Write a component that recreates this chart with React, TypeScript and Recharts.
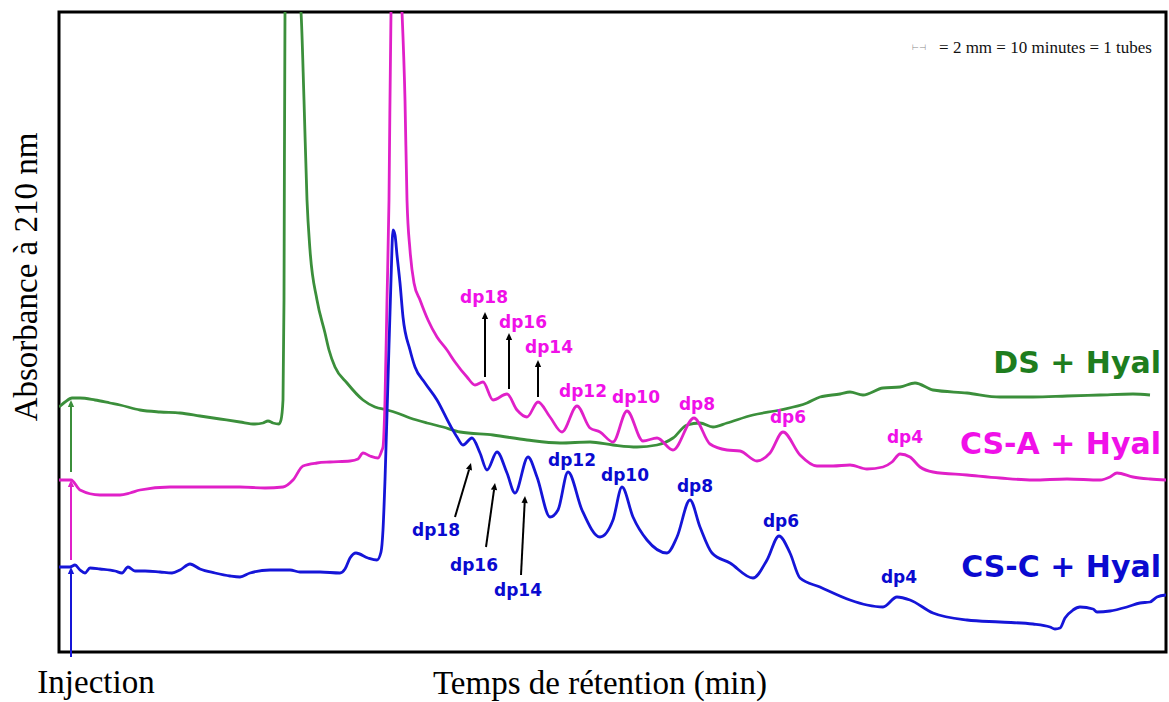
import {
  LineChart,
  Line,
  XAxis,
  YAxis,
  ReferenceArea,
  ReferenceLine,
  ReferenceDot,
} from 'recharts';

const W = 1169;
const H = 702;
const T_MAX = 110.7;
const A_MAX = 64;

// DS + Hyal trace (retention time, absorbance)
const dsTime = [
  0, 0.6, 1.3, 2.1, 3.6, 5.1, 6.1, 8.1, 10.1, 12.1, 14.1, 16.1, 18.1, 19.6, 20.4, 20.9, 21.4, 22.0, 22.2,
  22.4, 22.5, 22.6, 23.4, 24.2, 24.5, 24.8, 25.1, 25.8, 26.6, 27.0, 27.6, 28.8, 30.4, 31.6, 32.8, 33.8,
  35.1, 36.8, 38.4, 40.1, 43.4, 46.8, 50.1, 53.1, 55.4, 57.8, 59.8, 61.4, 62.8, 64.1, 65.4, 66.8, 69.4,
  72.1, 74.8, 76.1, 78.1, 79.1, 80.4, 82.4, 84.1, 85.6, 87.4, 90.8, 94.1, 97.4, 100.8, 104.1, 107.4, 109.1,
];
const dsAbs = [
  24.5, 25.0, 25.4, 25.4, 25.2, 24.9, 24.7, 24.2, 24.0, 23.9, 23.6, 23.3, 23.0, 22.8, 22.9, 23.1, 22.9, 22.8, 23.2,
  25.2, 35.2, 64.0, 70.2, 64.0, 55.2, 45.2, 40.2, 35.2, 31.9, 30.2, 28.5, 26.9, 25.2, 24.5, 24.2, 23.9,
  23.4, 22.9, 22.5, 22.0, 21.7, 21.2, 20.9, 21.0, 20.7, 20.5, 20.7, 21.4, 22.7, 22.9, 22.5, 22.9, 23.7,
  24.2, 24.9, 25.5, 25.8, 26.0, 25.7, 26.4, 26.5, 26.9, 26.2, 25.9, 25.5, 25.5, 25.6, 25.7, 25.8, 25.7,
];

// CS-A + Hyal trace
const csaTime = [
  0, 1.2, 2.1, 4.1, 6.1, 7.1, 8.1, 11.1, 14.1, 18.1, 20.6, 22.4, 23.4, 24.4, 25.8, 27.1, 29.1, 29.9, 30.4,
  31.1, 31.9, 32.3, 32.4, 32.6, 32.8, 33.0, 33.2, 33.7, 34.3, 34.6, 34.8, 35.1, 35.5, 36.1, 36.9, 37.8,
  38.8, 39.6, 40.8, 41.6, 42.4, 43.4, 44.8, 45.8, 46.8, 47.9, 49.1, 50.3, 51.8, 53.1, 54.1, 55.4, 56.8,
  58.4, 59.8, 61.4, 63.5, 65.1, 66.8, 68.1, 69.8, 71.1, 72.4, 74.1, 75.8, 77.4, 79.1, 80.8, 82.4, 83.3,
  84.1, 85.1, 86.1, 87.4, 90.8, 94.1, 97.4, 100.8, 104.1, 105.1, 105.8, 107.4, 109.1, 110.7,
];
const csaAbs = [
  17.2, 17.2, 16.2, 15.7, 15.7, 15.9, 16.2, 16.5, 16.5, 16.5, 16.4, 16.5, 17.2, 18.6, 18.9, 19.0, 19.1, 19.3, 19.9,
  19.6, 19.4, 20.2, 20.5, 25.2, 35.2, 45.2, 64.0, 71.2, 64.0, 55.2, 45.2, 40.2, 36.9, 35.2, 33.2, 31.5,
  30.2, 29.0, 27.5, 26.7, 27.0, 25.2, 25.8, 24.2, 23.5, 25.0, 23.5, 22.0, 24.6, 22.4, 22.0, 21.0, 24.1,
  21.1, 21.4, 20.2, 23.4, 20.8, 20.2, 20.1, 19.1, 19.9, 22.0, 19.7, 18.6, 18.6, 18.7, 18.3, 18.5, 19.0,
  19.8, 19.5, 18.5, 18.0, 17.7, 17.4, 17.2, 17.3, 17.2, 17.5, 17.9, 17.5, 17.3, 17.2,
];

// CS-C + Hyal trace
const cscTime = [
  0, 1.1, 1.6, 2.1, 2.6, 3.1, 4.1, 5.6, 6.3, 6.9, 7.6, 8.6, 10.1, 11.3, 12.1, 13.1, 14.1, 15.6, 17.1, 18.1,
  19.1, 21.1, 23.1, 24.1, 26.1, 28.1, 28.6, 29.1, 29.7, 30.9, 31.8, 32.2, 32.4, 32.6, 32.9, 33.2, 33.4,
  33.6, 33.8, 34.1, 34.4, 35.1, 35.6, 36.6, 37.8, 39.1, 39.8, 40.4, 41.3, 42.1, 42.8, 43.8, 44.8, 45.6,
  46.9, 47.8, 49.1, 49.9, 50.9, 52.3, 54.1, 55.4, 56.3, 57.4, 58.8, 60.8, 61.8, 63.1, 64.1, 65.3, 67.1,
  69.4, 70.8, 72.0, 73.1, 74.1, 76.1, 79.1, 80.8, 82.4, 83.8, 85.1, 87.4, 90.8, 94.1, 97.4, 99.1, 99.6,
  100.1, 100.6, 101.4, 102.1, 103.4, 103.8, 105.1, 106.8, 108.1, 109.1, 109.8, 110.7,
];
const cscAbs = [
  8.5, 8.5, 8.7, 8.2, 7.9, 8.4, 8.3, 8.1, 7.9, 8.5, 8.1, 8.1, 8.0, 7.9, 8.2, 8.8, 8.3, 7.9, 7.6, 7.5,
  7.9, 8.2, 8.2, 8.0, 8.0, 7.9, 8.3, 9.4, 9.9, 9.4, 9.2, 10.0, 12.2, 17.2, 27.2, 37.2, 42.2,
  41.7, 39.7, 36.9, 33.5, 30.2, 28.5, 26.9, 25.2, 22.7, 21.5, 20.7, 21.4, 19.9, 18.2, 20.0, 17.9, 15.9,
  19.5, 17.5, 13.5, 14.2, 18.0, 14.2, 11.5, 13.2, 16.5, 13.5, 11.2, 9.9, 11.5, 15.2, 12.5, 9.9, 8.9,
  7.4, 9.2, 11.6, 9.9, 7.4, 6.5, 5.2, 4.7, 4.5, 5.5, 5.2, 3.9, 3.2, 3.0, 2.8, 2.5, 2.3,
  2.4, 3.4, 4.2, 4.5, 4.3, 4.0, 4.1, 4.5, 4.9, 5.0, 5.5, 5.7,
];

const seriesNames = ['DS + Hyal', 'CS-A + Hyal', 'CS-C + Hyal'];
const seriesNameAbs = [29.0, 20.9, 8.6];

// peak labels (degree of polymerisation)
const csaPeaks = ['dp18', 'dp16', 'dp14', 'dp12', 'dp10', 'dp8', 'dp6', 'dp4'];
const csaPeakT = [42.5, 46.4, 49.0, 52.4, 57.7, 63.8, 72.9, 84.6];
const csaPeakA = [35.5, 33.0, 30.5, 26.1, 25.5, 24.8, 23.5, 21.5];
const cscPeaks = ['dp18', 'dp16', 'dp14', 'dp12', 'dp10', 'dp8', 'dp6', 'dp4'];
const cscPeakT = [37.7, 41.5, 45.9, 51.3, 56.6, 63.6, 72.2, 84.0];
const cscPeakA = [12.2, 8.7, 6.2, 19.2, 17.7, 16.6, 13.1, 7.5];

// arrows: [t1, a1, t2, a2]
const csaArrows = [
  [42.6, 27.5, 42.6, 34.0],
  [45.0, 26.3, 45.0, 31.9],
  [47.9, 25.5, 47.9, 29.2],
];
const cscArrows = [
  [39.6, 13.5, 41.2, 18.9],
  [42.7, 10.5, 43.6, 16.9],
  [46.2, 7.7, 46.6, 15.6],
];
const injectionT = 1.2;
const injectionFrom = [18.0, 9.2, -0.5];
const injectionTo = [25.2, 17.2, 8.5];

const lineColors = ['#3b8f3b', '#e020c8', '#1515d8'];
const textColors = ['#1e7d1e', '#f010e8', '#0a0ad0'];

const zip = (ts: number[], as: number[]) => ts.map((t, i) => ({ t, a: as[i] }));
const traces = [zip(dsTime, dsAbs), zip(csaTime, csaAbs), zip(cscTime, cscAbs)];

const arrowShape = (color: string, head = 7) => (p: any) => {
  const { x1, y1, x2, y2 } = p;
  const ang = Math.atan2(y2 - y1, x2 - x1);
  const bx = x2 - head * Math.cos(ang);
  const by = y2 - head * Math.sin(ang);
  const nx = -Math.sin(ang) * head * 0.45;
  const ny = Math.cos(ang) * head * 0.45;
  return (
    <g>
      <line x1={x1} y1={y1} x2={bx} y2={by} stroke={color} strokeWidth={2} />
      <polygon points={`${x2},${y2} ${bx + nx},${by + ny} ${bx - nx},${by - ny}`} fill={color} />
    </g>
  );
};

const textShape = (label: string, color: string, size: number, anchor = 'middle') => (p: any) => (
  <text
    x={p.cx}
    y={p.cy}
    fill={color}
    fontSize={size}
    fontWeight="bold"
    fontFamily="'DejaVu Sans', sans-serif"
    textAnchor={anchor}
    dominantBaseline="central"
  >
    {label}
  </text>
);

const serif = "'Liberation Serif', 'Times New Roman', serif";

export default function App() {
  return (
    <div style={{ position: 'absolute', left: 0, top: 0, width: W, height: H, background: '#fff' }}>
      <LineChart width={W} height={H} margin={{ top: 12, right: 3, bottom: 50, left: 59 }}>
        <XAxis dataKey="t" type="number" domain={[0, T_MAX]} hide allowDataOverflow />
        <YAxis dataKey="a" type="number" domain={[0, A_MAX]} hide allowDataOverflow />
        {traces.map((d, i) => (
          <Line
            key={seriesNames[i]}
            data={d}
            dataKey="a"
            type="monotone"
            stroke={lineColors[i]}
            strokeWidth={2.8}
            dot={false}
            isAnimationActive={false}
          />
        ))}
        <ReferenceArea
          x1={0}
          x2={T_MAX}
          y1={0}
          y2={A_MAX}
          fill="none"
          fillOpacity={0}
          stroke="#000"
          strokeWidth={3}
        />
        {injectionFrom.map((a, i) => (
          <ReferenceLine
            key={'inj' + i}
            segment={[
              { x: injectionT, y: a },
              { x: injectionT, y: injectionTo[i] },
            ]}
            ifOverflow="visible"
            shape={arrowShape(lineColors[i], 7)}
          />
        ))}
        {csaArrows.concat(cscArrows).map((s, i) => (
          <ReferenceLine
            key={'arr' + i}
            segment={[
              { x: s[0], y: s[1] },
              { x: s[2], y: s[3] },
            ]}
            shape={arrowShape('#000', 7)}
          />
        ))}
        {csaPeaks.map((l, i) => (
          <ReferenceDot
            key={'csa' + l}
            x={csaPeakT[i]}
            y={csaPeakA[i]}
            r={0}
            shape={textShape(l, textColors[1], 17)}
          />
        ))}
        {cscPeaks.map((l, i) => (
          <ReferenceDot
            key={'csc' + l}
            x={cscPeakT[i]}
            y={cscPeakA[i]}
            r={0}
            shape={textShape(l, textColors[2], 17)}
          />
        ))}
        {seriesNames.map((n, i) => (
          <ReferenceDot
            key={'name' + n}
            x={110.2}
            y={seriesNameAbs[i]}
            r={0}
            shape={textShape(n, textColors[i], 30, 'end')}
          />
        ))}
        <text x={926} y={50} fontSize={8} fill="#888" textAnchor="end" fontFamily="'DejaVu Sans', sans-serif">
          ⊢⊣
        </text>
        <text x={1152} y={53} fontSize={17} fill="#111" textAnchor="end" fontFamily={serif}>
          = 2 mm = 10 minutes = 1 tubes
        </text>
        <text x={96} y={693} fontSize={33} fill="#000" textAnchor="middle" fontFamily={serif}>
          Injection
        </text>
        <text x={600} y={694} fontSize={33} fill="#000" textAnchor="middle" fontFamily={serif}>
          Temps de rétention (min)
        </text>
        <text
          x={37}
          y={277}
          fontSize={33}
          fill="#000"
          textAnchor="middle"
          fontFamily={serif}
          transform="rotate(-90 37 277)"
        >
          Absorbance à 210 nm
        </text>
      </LineChart>
    </div>
  );
}
